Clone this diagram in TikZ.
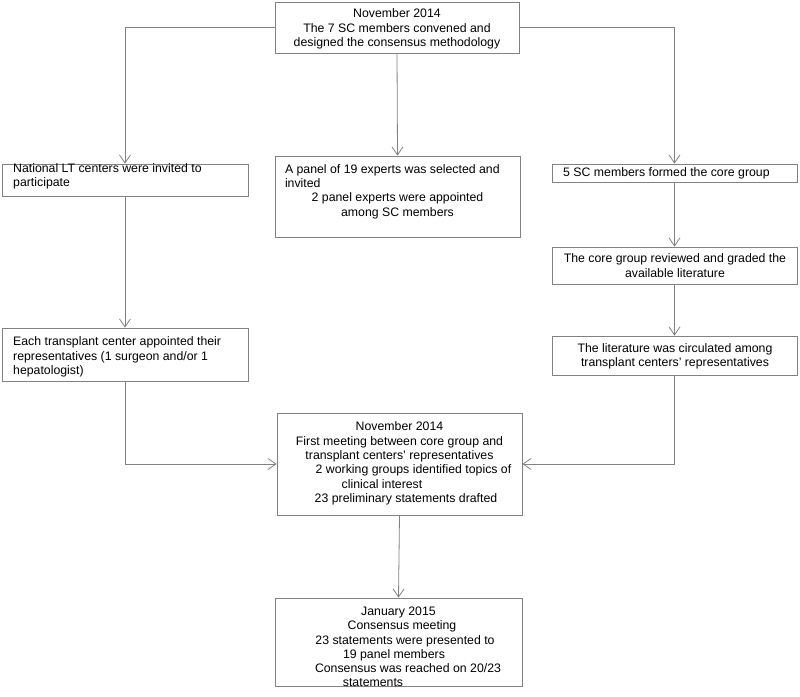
\documentclass[tikz,border=0pt]{standalone}
\usepackage{fontspec}
\setmainfont{Liberation Sans}
\usetikzlibrary{arrows.meta}
\definecolor{linegray}{RGB}{130,130,130}
\begin{document}
\begin{tikzpicture}[x=1pt,y=-1pt,
  box/.style={draw=linegray, line width=0.8pt, inner sep=0pt, minimum width=245pt},
  txt/.style={inner sep=0pt, font=\fontsize{12.3}{14.3}\selectfont, align=center},
  txtl/.style={inner sep=0pt, font=\fontsize{12.3}{14.3}\selectfont, align=left, anchor=west},
  conn/.style={draw=linegray, line width=0.8pt, -{Straight Barb[length=8pt,width=11pt]}},
]
\useasboundingbox (0,0) rectangle (800,696);

% boxes
\node[box, minimum width=244pt, minimum height=51pt] (top) at (397,27.5) {};
\node[box, minimum width=246pt, minimum height=32pt] (lb1) at (125,180) {};
\node[box, minimum height=81pt] (mb1) at (397.5,196.5) {};
\node[box, minimum height=18pt] (rb1) at (674.5,173) {};
\node[box, minimum height=37pt] (rb2) at (674.5,265.5) {};
\node[box, minimum height=39pt] (rb3) at (674.5,355.5) {};
\node[box, minimum width=246pt, minimum height=53pt] (lb2) at (125,354.5) {};
\node[box, minimum height=102pt] (mb2) at (399.5,464) {};
\node[box, minimum width=247pt, minimum height=88pt] (bot) at (398.5,642) {};

% texts
\node[txt] (top-t) at (397,29) {November 2014\\The 7 SC members convened and\\designed the consensus methodology};
\node[txtl] (lb1-t) at (13,176.5) {National LT centers were invited to\\participate};
\node[txt] (mb1-t) at (397.5,191.5) {\makebox[225pt][l]{A panel of 19 experts was selected and}\\\makebox[225pt][l]{invited}\\2 panel experts were appointed\\among SC members};
\node[txtl] (rb1-t) at (563,173) {5 SC members formed the core group};
\node[txt] (rb2-t) at (675,265.5) {The core group reviewed and graded the\\available literature};
\node[txt] (rb3-t) at (675,356.5) {The literature was circulated among\\transplant centers' representatives};
\node[txtl] (lb2-t) at (13,357) {Each transplant center appointed their\\representatives (1 surgeon and/or 1\\hepatologist)};
\node[txt] (mb2-t) at (399.5,463.5) {November 2014\\First meeting between core group and\\transplant centers' representatives\\\kern28pt 2 working groups identified topics of\\clinical interest\kern35pt\\\kern13pt 23 preliminary statements drafted};
\node[txt] (bot-t) at (398.5,647) {January 2015\\\kern7pt Consensus meeting\\\kern13pt 23 statements were presented to\\19 panel members\kern9pt\\\kern19pt Consensus was reached on 20/23\\statements\kern51pt};

% connectors
\draw[conn] (top.west) -| (lb1.north);
\draw[conn] (top.east) -| (rb1.north);
\draw[conn] (top.south) -- (mb1.north);
\draw[conn] (lb1.south) -- (lb2.north);
\draw[conn] (rb1.south) -- (rb2.north);
\draw[conn] (rb2.south) -- (rb3.north);
\draw[conn] (lb2.south) |- (mb2.west);
\draw[conn] (rb3.south) |- (mb2.east);
\draw[conn] (mb2.south) -- (bot.north);
\end{tikzpicture}
\end{document}
